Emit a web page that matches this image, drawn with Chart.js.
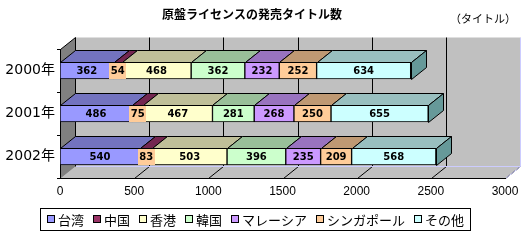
<!DOCTYPE html>
<html>
<head>
<meta charset="utf-8">
<script src="https://cdn.jsdelivr.net/npm/chart.js@4/dist/chart.umd.min.js"></script>
<style>
  html, body { margin: 0; padding: 0; background: #fff; }
  canvas { display: block; }
</style>
</head>
<body>
<canvas id="chart" width="530" height="240"></canvas>
<script>
const years = ['2000年', '2001年', '2002年'];
const regions = ['台湾', '中国', '香港', '韓国', 'マレーシア', 'シンガポール', 'その他'];
const taiwan = [362, 486, 540];
const china = [54, 75, 83];
const hongkong = [468, 467, 503];
const korea = [362, 281, 396];
const malaysia = [232, 268, 235];
const singapore = [252, 250, 209];
const others = [634, 655, 568];
const xTicks = [0, 500, 1000, 1500, 2000, 2500, 3000];

const series = [taiwan, china, hongkong, korea, malaysia, singapore, others];
const fronts = ['#9999FF', '#993366', '#FFFFCC', '#CCFFCC', '#CC99FF', '#FFCC99', '#CCFFFF'];
const tops = ['#7373BF', '#732650', '#BFBF99', '#99BF99', '#9973BF', '#BF9973', '#99BFBF'];
const sideColor = '#669999';
const labelBg = [null, '#FFCC99', null, null, null, null, null];
const DX = 15, DY = -12;
const cjk = '"Noto Sans CJK JP", "Noto Sans", sans-serif';

function poly(ctx, pts, fill, stroke) {
  ctx.beginPath();
  pts.forEach(([px, py], i) => i ? ctx.lineTo(px, py) : ctx.moveTo(px, py));
  ctx.closePath();
  if (fill) { ctx.fillStyle = fill; ctx.fill(); }
  if (stroke) { ctx.strokeStyle = stroke; ctx.lineWidth = 1; ctx.stroke(); }
}

function line(ctx, x1, y1, x2, y2, color) {
  ctx.beginPath();
  ctx.moveTo(x1, y1);
  ctx.lineTo(x2, y2);
  ctx.strokeStyle = color;
  ctx.lineWidth = 1;
  ctx.stroke();
}

// walls, floor and back gridlines
const walls = {
  id: 'walls',
  beforeDraw(chart) {
    const { ctx, chartArea: a, scales: { x } } = chart;
    const l = a.left + 0.5, r = Math.round(a.right) + 0.5, t = a.top + 0.5, b = a.bottom + 0.5;
    ctx.save();
    poly(ctx, [[l + DX, t + DY], [r + DX, t + DY], [r + DX, b + DY], [l + DX, b + DY]], '#C0C0C0');
    poly(ctx, [[l, b], [l + DX, b + DY], [r + DX, b + DY], [r, b]], '#C0C0C0');
    poly(ctx, [[l, t], [l + DX, t + DY], [l + DX, b + DY], [l, b]], '#808080');
    xTicks.forEach(v => {
      const px = Math.round(x.getPixelForValue(v)) + 0.5;
      if (v > 0 && v < 3000) line(ctx, px + DX, t + DY, px + DX, b + DY, '#000');
      if (v > 0) line(ctx, px, b, px + DX, b + DY, '#000');
    });
    line(ctx, r + DX, t + DY, r + DX, b + DY, '#CCCCFF');
    line(ctx, l + DX, b + DY, r + DX, b + DY, '#CCCCFF');
    line(ctx, r, b, r + DX, b + DY, '#CCCCFF');
    line(ctx, l, t, l + DX, t + DY, '#000');
    line(ctx, l + DX, t + DY, l + DX, b + DY, '#000');
    line(ctx, l, b, r, b, '#000');
    ctx.restore();
  }
};

// top faces, end face, value labels, title, legend
const solid = {
  id: 'solid',
  afterDatasetsDraw(chart) {
    const { ctx } = chart;
    ctx.save();
    years.forEach((_, i) => {
      let last = null;
      chart.data.datasets.forEach((ds, d) => {
        const bar = chart.getDatasetMeta(d).data[i];
        const p = bar.getProps(['x', 'y', 'base', 'height'], true);
        const l = Math.round(Math.min(p.base, p.x)) + 0.5;
        const r = Math.round(Math.max(p.base, p.x)) + 0.5;
        const t = Math.round(p.y - p.height / 2) + 0.5;
        const b = Math.round(p.y + p.height / 2) + 0.5;
        poly(ctx, [[l, t], [l + DX, t + DY], [r + DX, t + DY], [r, t]], tops[d], '#000');
        last = { l, r, t, b };
      });
      if (last) {
        const { r, t, b } = last;
        poly(ctx, [[r, t], [r + DX, t + DY], [r + DX, b + DY], [r, b]], sideColor, '#000');
      }
    });
    ctx.font = 'bold 10px "DejaVu Sans", sans-serif';
    ctx.textAlign = 'center';
    ctx.textBaseline = 'middle';
    chart.data.datasets.forEach((ds, d) => {
      chart.getDatasetMeta(d).data.forEach((bar, i) => {
        const p = bar.getProps(['x', 'y', 'base', 'height'], true);
        const cx = (p.base + p.x) / 2;
        const txt = String(ds.data[i]);
        if (labelBg[d]) {
          const w = ctx.measureText(txt).width + 3;
          ctx.fillStyle = labelBg[d];
          ctx.fillRect(Math.round(cx - w / 2), Math.round(p.y - p.height / 2) + 1, Math.round(w), Math.round(p.height) - 1);
        }
        ctx.fillStyle = '#000';
        ctx.fillText(txt, cx, p.y + 1);
      });
    });
    ctx.restore();
  },
  afterDraw(chart) {
    const { ctx } = chart;
    ctx.save();
    ctx.fillStyle = '#000';
    ctx.textBaseline = 'middle';
    ctx.textAlign = 'center';
    ctx.font = 'bold 12px ' + cjk;
    ctx.fillText('原盤ライセンスの発売タイトル数', 252, 14);
    ctx.textAlign = 'left';
    ctx.font = '11px ' + cjk;
    ctx.fillText('（タイトル）', 450, 19);

    // legend
    ctx.font = '13px ' + cjk;
    let lx = 47;
    const ly = 219;
    chart.data.datasets.forEach((ds, d) => {
      ctx.fillStyle = fronts[d];
      ctx.fillRect(lx, ly - 4, 8, 8);
      ctx.strokeStyle = '#000';
      ctx.lineWidth = 1;
      ctx.strokeRect(lx + 0.5, ly - 3.5, 7, 7);
      ctx.fillStyle = '#000';
      ctx.fillText(ds.label, lx + 11, ly + 1);
      lx += 11 + ctx.measureText(ds.label).width + 9;
    });
    ctx.strokeStyle = '#000';
    ctx.strokeRect(40.5, 208.5, Math.round(lx - 40 - 3), 22);
    ctx.restore();
  }
};

new Chart(document.getElementById('chart'), {
  type: 'bar',
  data: {
    labels: years,
    datasets: regions.map((name, d) => ({
      label: name,
      data: series[d],
      backgroundColor: fronts[d],
      borderColor: '#000',
      borderWidth: 1,
      borderSkipped: false,
      barThickness: 17
    }))
  },
  options: {
    indexAxis: 'y',
    responsive: false,
    animation: false,
    devicePixelRatio: 1,
    layout: { padding: { top: 49, right: 25, left: 0, bottom: 0 } },
    plugins: {
      legend: { display: false },
      title: { display: false },
      tooltip: { enabled: false }
    },
    scales: {
      x: {
        stacked: true,
        min: 0,
        max: 3000,
        afterBuildTicks: s => { s.ticks = xTicks.map(v => ({ value: v })); },
        ticks: {
          color: '#000',
          font: { family: '"Liberation Sans", sans-serif', size: 12 },
          padding: -2,
          maxRotation: 0,
          callback: v => String(v)
        },
        grid: { display: false },
        border: { display: true, color: '#000' },
        afterFit: s => { s.height = 62; }
      },
      y: {
        stacked: true,
        ticks: { color: '#000', font: { family: '"DejaVu Sans", ' + cjk, size: 14 }, padding: 2 },
        grid: { display: true, drawOnChartArea: false, tickLength: 3, color: '#000' },
        border: { display: true, color: '#000' },
        afterFit: s => { s.width = 60; }
      }
    }
  },
  plugins: [walls, solid]
});
</script>
</body>
</html>
